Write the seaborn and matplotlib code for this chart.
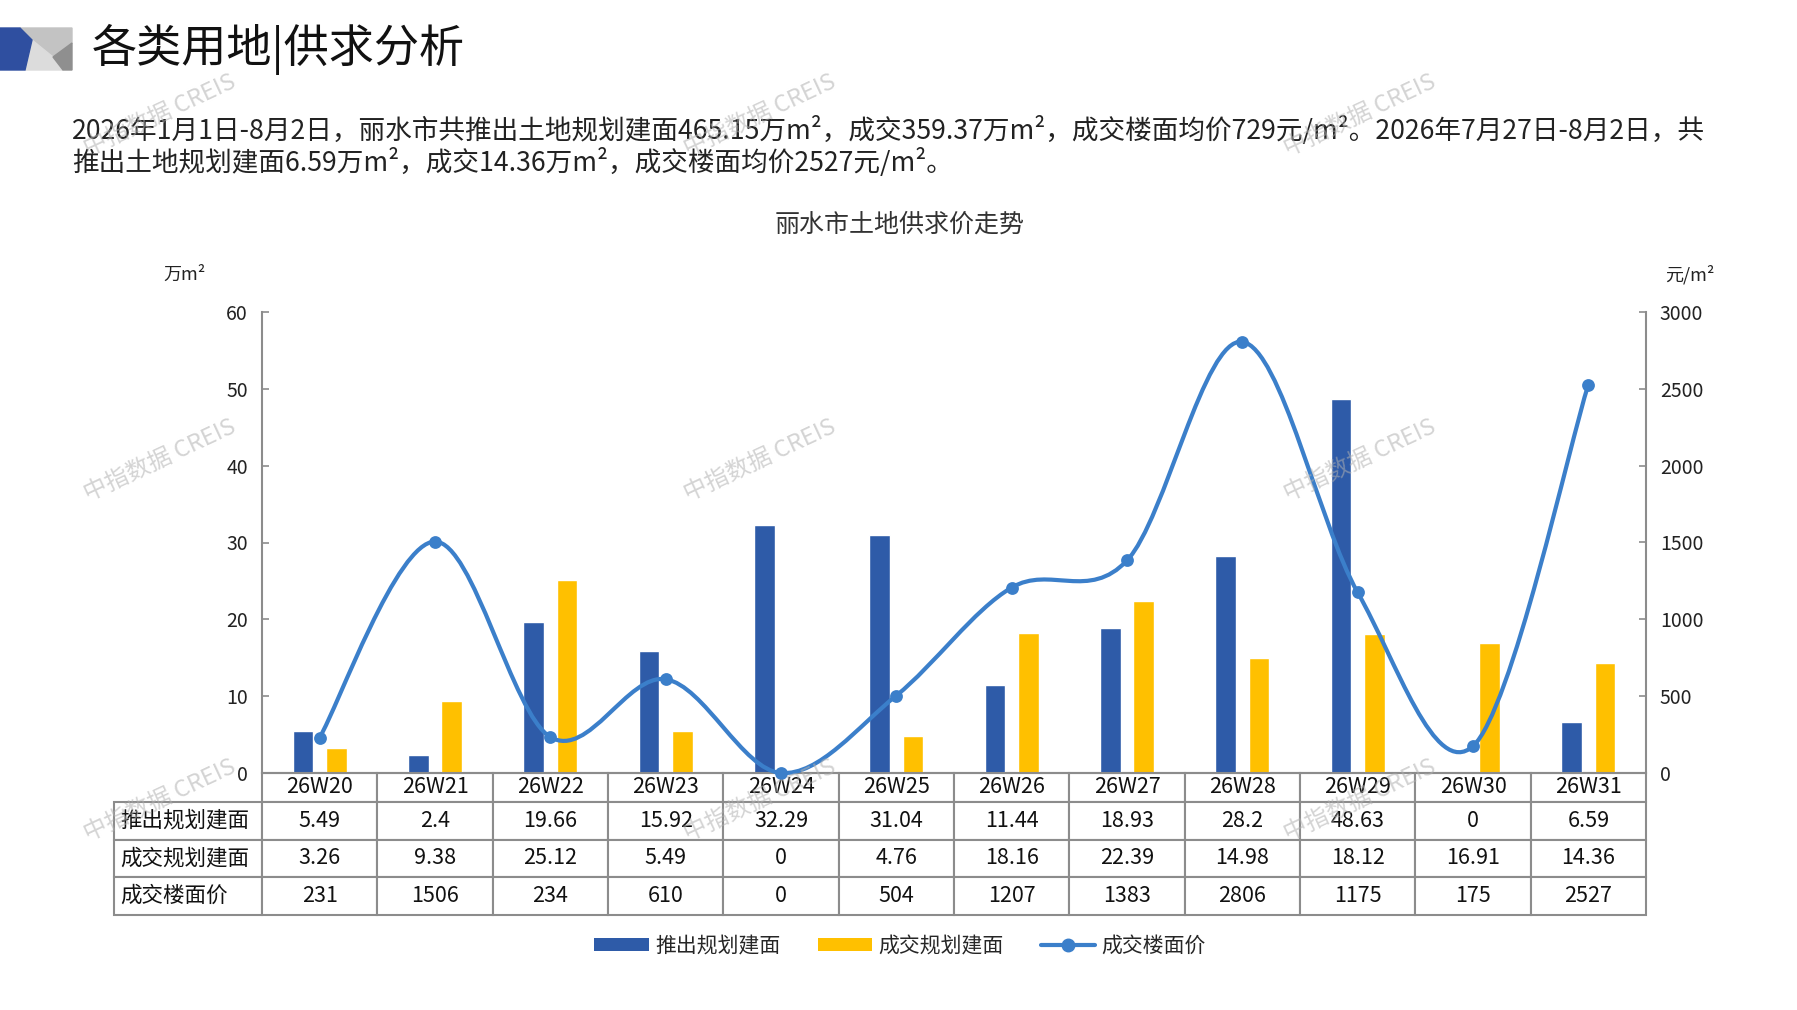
import numpy as np
import pandas as pd
import matplotlib
matplotlib.use("Agg")
import matplotlib.pyplot as plt
import seaborn as sns
from matplotlib.path import Path
from matplotlib.patches import PathPatch, Polygon, Patch
from matplotlib.lines import Line2D

# Data
weeks = ["26W20", "26W21", "26W22", "26W23", "26W24", "26W25",
         "26W26", "26W27", "26W28", "26W29", "26W30", "26W31"]
supply = [5.49, 2.4, 19.66, 15.92, 32.29, 31.04, 11.44, 18.93, 28.2, 48.63, 0, 6.59]
deal = [3.26, 9.38, 25.12, 5.49, 0, 4.76, 18.16, 22.39, 14.98, 18.12, 16.91, 14.36]
price = [231, 1506, 234, 610, 0, 504, 1207, 1383, 2806, 1175, 175, 2527]
series_names = ["推出规划建面", "成交规划建面", "成交楼面价"]

BLUE = "#2E5BA8"
YELLOW = "#FFC000"
LINE = "#3B7FCA"
GRID = "#8c8c8c"
W, H = 1797, 1010

sns.set_theme(style="white")
plt.rcParams["font.family"] = ["Noto Sans CJK SC", "DejaVu Sans"]

fig = plt.figure(figsize=(W / 100, H / 100), dpi=100)
ax = fig.add_axes([262 / W, 1 - 773 / H, (1646 - 262) / W, (773 - 312) / H])

# bars
df = pd.DataFrame({
    "week": weeks * 2,
    "value": supply + deal,
    "series": [series_names[0]] * len(weeks) + [series_names[1]] * len(weeks),
})
sns.barplot(data=df, x="week", y="value", hue="series", palette=[BLUE, YELLOW],
            width=0.58, gap=0.38, saturation=1, legend=False, ax=ax)
ax.set_xlim(-0.5, len(weeks) - 0.5)
ax.set_ylim(0, 60)
ax.set_yticks(range(0, 61, 10))
ax.set_xlabel("")
ax.set_ylabel("")
ax.tick_params(axis="x", bottom=False, labelbottom=False)
ax.tick_params(axis="y", direction="in", length=5, width=1.2, color=GRID,
               labelsize=14, pad=10, labelcolor="#222222")
for side in ["top", "right"]:
    ax.spines[side].set_visible(False)
for side in ["left", "bottom"]:
    ax.spines[side].set_color(GRID)
    ax.spines[side].set_linewidth(1.5)

# price line on right axis (smoothed like the original)
ax2 = ax.twinx()
ax2.set_ylim(0, 3000)
ax2.set_yticks(range(0, 3001, 500))
ax2.tick_params(axis="y", direction="in", length=5, width=1.2, color=GRID,
                labelsize=14, pad=10, labelcolor="#222222")
for side in ["top", "left", "bottom"]:
    ax2.spines[side].set_visible(False)
ax2.spines["right"].set_color(GRID)
ax2.spines["right"].set_linewidth(1.5)

pts = np.column_stack([np.arange(len(price), dtype=float), np.array(price, dtype=float)])
padded = np.vstack([pts[0], pts, pts[-1]])
verts = [pts[0]]
codes = [Path.MOVETO]
for i in range(len(pts) - 1):
    p0, p1, p2, p3 = padded[i], padded[i + 1], padded[i + 2], padded[i + 3]
    verts += [p1 + (p2 - p0) / 6, p2 - (p3 - p1) / 6, p2]
    codes += [Path.CURVE4] * 3
ax2.add_patch(PathPatch(Path(verts, codes), fill=False, edgecolor=LINE, lw=3,
                        capstyle="round", joinstyle="round", clip_on=False, zorder=3))
sns.scatterplot(x=np.arange(len(price)), y=price, color=LINE, s=85, linewidth=0,
                ax=ax2, clip_on=False, zorder=4)

# data table under the chart
cell_rows = [
    [series_names[0]] + [f"{v:g}" for v in supply],
    [series_names[1]] + [f"{v:g}" for v in deal],
    [series_names[2]] + [str(v) for v in price],
]
tbl = ax.table(cellText=cell_rows, colLabels=[""] + weeks, cellLoc="center",
               bbox=[-148 / 1384, -142 / 461, 1 + 148 / 1384, 142 / 461])
tbl.auto_set_font_size(False)
tbl.set_fontsize(15.5)
for (r, c), cell in tbl.get_celld().items():
    cell.set_edgecolor(GRID)
    cell.set_linewidth(1.5)
    cell.set_width(148 if c == 0 else 115.33)
    cell.set_height(29 if r == 0 else 37.7)
    cell.get_text().set_color("#111111")
    if c == 0:
        cell._loc = "left"
        cell.PAD = 0.04
        cell.get_text().set_horizontalalignment("left")
    if r == 0 and c == 0:
        cell.visible_edges = "open"

# unit labels and titles
fig.text(184 / W, 1 - 275 / H, "万m²", ha="center", va="center", fontsize=13, color="#222222")
fig.text(1690 / W, 1 - 275 / H, "元/m²", ha="center", va="center", fontsize=13, color="#222222")
fig.text(900 / W, 1 - 225 / H, "丽水市土地供求价走势", ha="center", va="center",
         fontsize=18, color="#333333")
fig.text(92 / W, 1 - 49 / H, "各类用地|供求分析", ha="left", va="center",
         fontsize=32.5, color="#111111")
fig.text(72 / W, 1 - 130 / H,
         "2026年1月1日-8月2日，丽水市共推出土地规划建面465.15万m²，成交359.37万m²，"
         "成交楼面均价729元/m²。2026年7月27日-8月2日，共",
         ha="left", va="center", fontsize=19.2, color="#222222")
fig.text(72 / W, 1 - 162 / H,
         "推出土地规划建面6.59万m²，成交14.36万m²，成交楼面均价2527元/m²。",
         ha="left", va="center", fontsize=19.2, color="#222222")

# header decoration
def px(points):
    return [(x / W, 1 - y / H) for x, y in points]

fig.patches.extend([
    Polygon(px([(20, 28), (72, 28), (72, 43), (53, 57), (32, 40)]),
            closed=True, transform=fig.transFigure, color="#c3c3c3"),
    Polygon(px([(32, 40), (53, 57), (63, 70), (25, 70)]),
            closed=True, transform=fig.transFigure, color="#dcdcdc"),
    Polygon(px([(72, 43), (72, 70), (63, 70), (53, 57)]),
            closed=True, transform=fig.transFigure, color="#8f8f8f"),
    Polygon(px([(0, 28), (20, 28), (32, 40), (25, 70), (0, 70)]),
            closed=True, transform=fig.transFigure, color="#2F4FA0"),
])

# watermarks
for wx in [160, 760, 1360]:
    for wy in [115, 460, 800]:
        fig.text(wx / W, 1 - wy / H, "中指数据 CREIS", ha="center", va="center",
                 rotation=25, fontsize=17, color="#b0b0b0", alpha=0.55, zorder=10)

# legend
handles = [
    Patch(facecolor=BLUE, edgecolor="none"),
    Patch(facecolor=YELLOW, edgecolor="none"),
    Line2D([0], [0], color=LINE, lw=3, marker="o", markersize=9),
]
fig.legend(handles, series_names, loc="center", bbox_to_anchor=(900 / W, 1 - 946 / H),
           ncol=3, frameon=False, fontsize=15, handlelength=2.6, handleheight=0.6,
           handletextpad=0.3, columnspacing=1.8)

fig.savefig("out.png", dpi=100)
